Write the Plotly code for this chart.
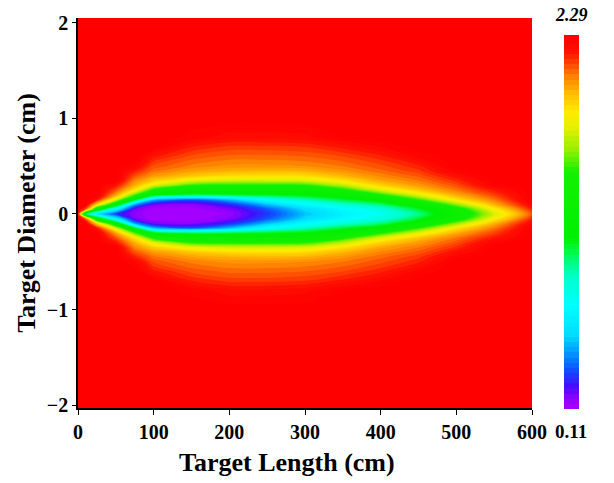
import plotly.graph_objects as go

# Target length stations (cm)
x_cm = [0, 10, 25, 50, 75, 100, 150, 200, 250, 300, 350, 400, 450, 500, 550, 600]
# Half-diameter rows (cm), upper half; field is symmetric about y = 0
y_upper = [0, 0.05, 0.1, 0.15, 0.2, 0.25, 0.3, 0.35, 0.4, 0.45, 0.5, 0.6, 0.7, 0.8, 1.0, 2.05]

# Values, one list per length station (over y_upper)
col_0   = [2.20, 2.29, 2.29, 2.29, 2.29, 2.29, 2.29, 2.29, 2.29, 2.29, 2.29, 2.29, 2.29, 2.29, 2.29, 2.29]
col_10  = [1.00, 2.10, 2.29, 2.29, 2.29, 2.29, 2.29, 2.29, 2.29, 2.29, 2.29, 2.29, 2.29, 2.29, 2.29, 2.29]
col_25  = [0.60, 1.25, 1.90, 2.20, 2.29, 2.29, 2.29, 2.29, 2.29, 2.29, 2.29, 2.29, 2.29, 2.29, 2.29, 2.29]
col_50  = [0.30, 0.65, 1.25, 1.75, 2.00, 2.11, 2.20, 2.29, 2.29, 2.29, 2.29, 2.29, 2.29, 2.29, 2.29, 2.29]
col_75  = [0.16, 0.20, 0.45, 1.10, 1.55, 1.85, 1.97, 2.04, 2.11, 2.18, 2.25, 2.29, 2.29, 2.29, 2.29, 2.29]
col_100 = [0.11, 0.12, 0.20, 0.50, 1.15, 1.45, 1.75, 1.92, 2.01, 2.07, 2.11, 2.19, 2.28, 2.29, 2.29, 2.29]
col_150 = [0.11, 0.12, 0.17, 0.35, 1.02, 1.30, 1.50, 1.78, 1.93, 2.00, 2.05, 2.11, 2.18, 2.26, 2.29, 2.29]
col_200 = [0.15, 0.18, 0.28, 0.50, 1.05, 1.28, 1.48, 1.72, 1.88, 1.97, 2.02, 2.08, 2.14, 2.22, 2.29, 2.29]
col_250 = [0.30, 0.35, 0.50, 0.75, 1.08, 1.28, 1.48, 1.72, 1.87, 1.96, 2.02, 2.08, 2.14, 2.22, 2.29, 2.29]
col_300 = [0.50, 0.55, 0.70, 0.90, 1.12, 1.30, 1.50, 1.74, 1.88, 1.97, 2.03, 2.09, 2.15, 2.23, 2.29, 2.29]
col_350 = [0.65, 0.70, 0.85, 1.05, 1.25, 1.45, 1.68, 1.86, 1.96, 2.02, 2.06, 2.12, 2.19, 2.27, 2.29, 2.29]
col_400 = [0.75, 0.82, 0.98, 1.20, 1.48, 1.74, 1.90, 1.99, 2.04, 2.08, 2.11, 2.17, 2.24, 2.29, 2.29, 2.29]
col_450 = [0.95, 1.05, 1.25, 1.52, 1.76, 1.93, 2.01, 2.06, 2.10, 2.14, 2.17, 2.25, 2.29, 2.29, 2.29, 2.29]
col_500 = [1.30, 1.38, 1.62, 1.86, 1.98, 2.06, 2.11, 2.16, 2.21, 2.26, 2.29, 2.29, 2.29, 2.29, 2.29, 2.29]
col_550 = [1.72, 1.82, 1.97, 2.06, 2.13, 2.19, 2.26, 2.29, 2.29, 2.29, 2.29, 2.29, 2.29, 2.29, 2.29, 2.29]
col_600 = [2.10, 2.17, 2.24, 2.29, 2.29, 2.29, 2.29, 2.29, 2.29, 2.29, 2.29, 2.29, 2.29, 2.29, 2.29, 2.29]

columns = [col_0, col_10, col_25, col_50, col_75, col_100, col_150, col_200, col_250,
           col_300, col_350, col_400, col_450, col_500, col_550, col_600]

z_min, z_max = 0.11, 2.29
cbar_labels = ["2.29", "0.11"]
x_ticks = [0, 100, 200, 300, 400, 500, 600]
y_ticks = [-2, -1, 0, 1, 2]
x_title = "Target Length (cm)"
y_title = "Target Diameter (cm)"

# assemble full symmetric grid (rows = y, cols = x)
upper_rows = [[col[i] for col in columns] for i in range(len(y_upper))]
z_rows = upper_rows[:0:-1] + upper_rows
y_full = [-v for v in y_upper[:0:-1]] + y_upper

colorscale = [
    [0.00, 'rgb(170,0,255)'], [0.03, 'rgb(140,0,255)'], [0.06, 'rgb(70,10,255)'],
    [0.10, 'rgb(20,70,255)'], [0.15, 'rgb(0,150,255)'], [0.20, 'rgb(0,220,255)'],
    [0.28, 'rgb(0,255,255)'], [0.36, 'rgb(0,255,200)'], [0.42, 'rgb(0,250,80)'],
    [0.46, 'rgb(0,240,0)'], [0.64, 'rgb(20,240,0)'], [0.70, 'rgb(150,240,0)'],
    [0.76, 'rgb(230,240,0)'], [0.80, 'rgb(255,235,0)'], [0.85, 'rgb(255,190,0)'],
    [0.89, 'rgb(255,140,0)'], [0.925, 'rgb(255,80,0)'], [0.96, 'rgb(255,20,0)'],
    [1.00, 'rgb(255,0,0)']]

FONT = "Liberation Serif"

fig = go.Figure(go.Contour(
    x=x_cm, y=y_full, z=z_rows,
    zmin=z_min, zmax=z_max, colorscale=colorscale,
    contours=dict(start=z_min, end=z_max, size=0.03, coloring='fill', showlines=False),
    line=dict(width=0),
    colorbar=dict(x=1.0705, xanchor='left', xpad=0, y=0.476, yanchor='middle',
                  len=394, lenmode='pixels', thickness=15, outlinewidth=0,
                  showticklabels=False, ticks=''),
))

fig.update_layout(
    width=614, height=483,
    margin=dict(l=78, r=82, t=13, b=75),
    paper_bgcolor='white', plot_bgcolor='white',
    font=dict(family=FONT, size=20, color='black'),
    xaxis=dict(range=[0, 600], tickvals=x_ticks, ticks='outside', ticklen=5,
               tickcolor='black', showline=True, linecolor='black', linewidth=1.5,
               showgrid=False, zeroline=False,
               tickfont=dict(family=FONT, size=20, color='black', weight='bold')),
    yaxis=dict(range=[-2.03, 2.05], tickvals=y_ticks, ticks='outside', ticklen=4,
               tickcolor='black', showline=True, linecolor='black', linewidth=1.5,
               showgrid=False, zeroline=False,
               tickfont=dict(family=FONT, size=20, color='black', weight='bold'),
               title=dict(text='<b>' + y_title + '</b>', standoff=4,
                          font=dict(family=FONT, size=26, color='black'))),
    annotations=[
        dict(text='<b>' + x_title + '</b>', xref='paper', yref='paper',
             x=(287 - 78) / 454, y=(408 - 463) / 395, xanchor='center', yanchor='middle',
             showarrow=False, font=dict(family=FONT, size=26, color='black')),
        dict(text='<b><i>' + cbar_labels[0] + '</i></b>', xref='paper', yref='paper',
             x=(571 - 78) / 454, y=(408 - 10) / 395, xanchor='center', yanchor='middle',
             showarrow=False, font=dict(family=FONT, size=18, color='black')),
        dict(text='<b>' + cbar_labels[1] + '</b>', xref='paper', yref='paper',
             x=(571 - 78) / 454, y=(408 - 432) / 395, xanchor='center', yanchor='middle',
             showarrow=False, font=dict(family=FONT, size=19, color='black')),
    ],
)

fig.write_html("out.html")
